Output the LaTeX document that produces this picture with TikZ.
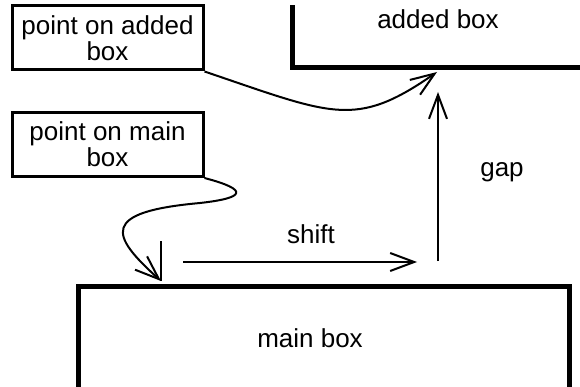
\documentclass[tikz,border=0pt]{standalone}
\usepackage{fontspec}
\setmainfont{Liberation Sans}
\usetikzlibrary{arrows.meta}
\begin{document}
\begin{tikzpicture}[x=1pt,y=-1pt,
  txt/.style={font=\fontsize{26}{26}\selectfont, inner sep=0pt},
  labelbox/.style={draw, line width=3pt, minimum width=191pt, minimum height=64pt, align=center, inner sep=0pt, font=\fontsize{26}{26}\selectfont},
  bigbox/.style={draw, line width=5pt, inner sep=0pt},
  conn/.style={line width=2pt, -{Straight Barb[length=24pt,width=18pt,line width=2pt]}},
  plain/.style={line width=2pt}]
\useasboundingbox (0,0) rectangle (580,387);
\begin{scope}
\clip (0,6) rectangle (580,387);
\node[bigbox, anchor=north west, minimum width=491pt, minimum height=150pt] (main) at (76,283.5) {};
\node[bigbox, anchor=south west, minimum width=400pt, minimum height=150pt] (added) at (289.5,70) {};
\end{scope}
\node[txt, anchor=base] (maintxt) at (310,347) {main box};
\node[txt, anchor=base] (addedtxt) at (438,29) {added box};
\node[labelbox] (lpa) at (107.5,38) {point on added\\box};
\node[labelbox] (lpm) at (107.5,144.5) {point on main\\box};
\node[txt, anchor=base] (shifttxt) at (311,243) {shift};
\node[txt, anchor=base] (gaptxt) at (502,177) {gap};
\coordinate (pa) at (437,72);
\coordinate (pm) at (161,281);
\coordinate (pmt) at (161,241);
\coordinate (s1) at (183,262);
\coordinate (s2) at (417,262);
\coordinate (g1) at (438,261);
\coordinate (g2) at (438,92);
\draw[conn] (lpa.south east) .. controls (333,115) and (355,129) .. (pa);
\draw[conn] (lpm.south east) .. controls (250,190) and (245,198) .. (200,203) .. controls (100,212) and (110,235) .. (pm);
\draw[plain] (pm) -- (pmt);
\draw[conn] (s1) -- (s2);
\draw[conn] (g1) -- (g2);
\end{tikzpicture}
\end{document}
